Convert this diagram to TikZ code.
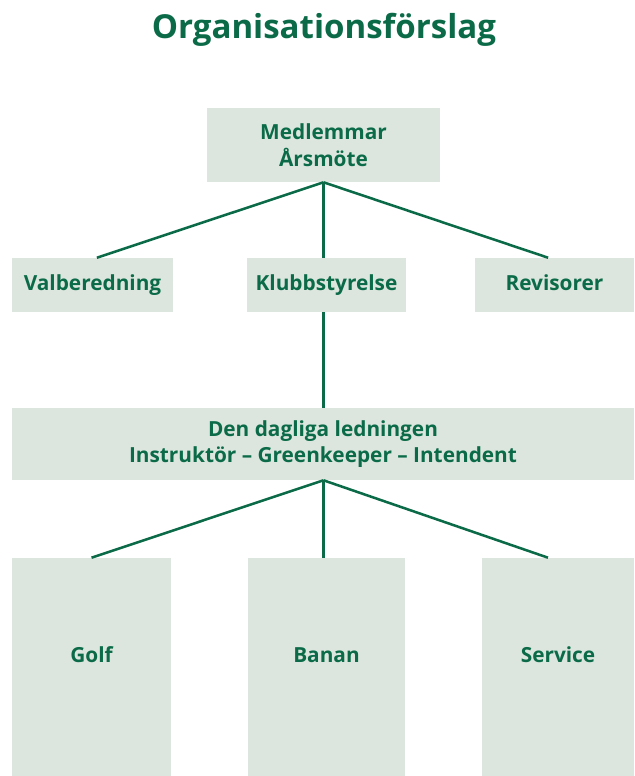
\documentclass[tikz,border=0pt]{standalone}
\usepackage{fontspec}
\setmainfont{Open Sans}
\usetikzlibrary{positioning}
\definecolor{orggreen}{HTML}{0B6B48}
\definecolor{orgfill}{HTML}{DCE6DF}
\tikzset{%
  orgbox/.style={fill=orgfill,text=orggreen,font=\bfseries\fontsize{14.8}{19}\selectfont,align=center,inner sep=0pt},
  smallbox/.style={orgbox,minimum width=3.975cm,minimum height=1.35cm,text height=0.75em,text depth=0pt},
  tallbox/.style={orgbox,minimum height=5.45cm,text height=0.75em,text depth=0.5cm},
  orgline/.style={draw=orggreen,line width=1.8pt}
}
\begin{document}
\begin{tikzpicture}[x=0.025cm,y=-0.025cm]
    \useasboundingbox (0,0) rectangle (634,776);
    \node[text=orggreen,font=\fontsize{23.5}{28}\selectfont\bfseries] (title) at (324,30) {Organisationsförslag};
    \node[orgbox,minimum width=5.825cm,minimum height=1.85cm] (mote) at (323.5,145) {Medlemmar\\Årsmöte};
    \node[smallbox,minimum width=4.025cm] (valb) at (92.5,285) {Valberedning};
    \node[smallbox] (styr) at (326.5,285) {Klubbstyrelse};
    \node[smallbox] (rev) at (554.5,285) {Revisorer};
    \node[orgbox,minimum width=15.55cm,minimum height=1.8cm] (daglig) at (323,444) {Den dagliga ledningen\\Instruktör – Greenkeeper – Intendent};
    \node[tallbox,minimum width=3.975cm] (golf) at (91.5,667) {Golf};
    \node[tallbox,minimum width=3.925cm] (banan) at (326.5,667) {Banan};
    \node[tallbox,minimum width=3.8cm] (service) at (558,667) {Service};
    \draw[orgline] (mote.south) -- ([xshift=0.11cm]valb.north);
    \draw[orgline] (mote.south) -- (styr.north -| mote.south);
    \draw[orgline] (mote.south) -- ([xshift=-0.16cm]rev.north);
    \draw[orgline] (styr.south -| mote.south) -- (daglig.north -| mote.south);
    \draw[orgline] (daglig.south -| mote.south) -- (golf.north);
    \draw[orgline] (daglig.south -| mote.south) -- (banan.north -| mote.south);
    \draw[orgline] (daglig.south -| mote.south) -- ([xshift=-0.25cm]service.north);
\end{tikzpicture}
\end{document}
